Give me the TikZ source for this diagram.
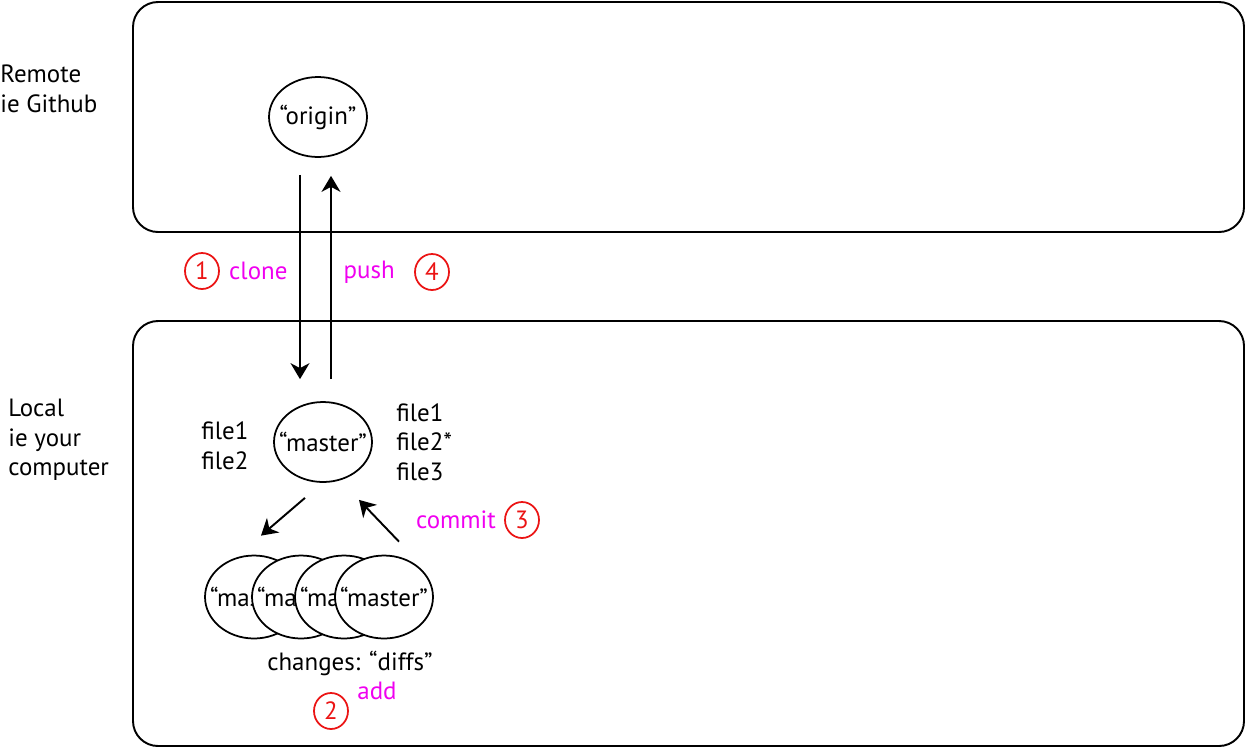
\documentclass[tikz,border=0pt]{standalone}
\usepackage{fontspec}
\setmainfont{PT Sans}
\usepackage{tikz}
\usetikzlibrary{positioning, arrows.meta, shapes.geometric, calc}
\definecolor{gitmag}{RGB}{240,0,240}
\definecolor{gitred}{RGB}{235,20,20}

\begin{document}
\begin{tikzpicture}[
    x=0.02cm, y=-0.02cm,
    font=\fontsize{14.2}{16.8}\selectfont,
    area/.style={draw, line width=1.1pt, rounded corners=0.5cm},
    repo/.style={draw, ellipse, line width=1pt, fill=white, minimum width=1.96cm, minimum height=1.6cm, inner xsep=-0.3cm, inner ysep=0pt},
    stash/.style={repo, minimum width=1.96cm, minimum height=1.66cm},
    num/.style={draw=gitred, ellipse, line width=1pt, text=gitred, minimum width=0.68cm, minimum height=0.72cm, inner sep=0pt},
    cmd/.style={text=gitmag, inner sep=0pt},
    side/.style={align=left, anchor=west, inner sep=0pt},
    arr/.style={-{Stealth[length=0.32cm, width=0.38cm, inset=0.1cm]}, line width=1.1pt}
]
    \useasboundingbox (0,0) rectangle (1246,748);

    % remote and local areas
    \draw[area] (133,2) rectangle (1244,232);
    \draw[area] (133,321) rectangle (1244,746);
    \node[side] (remote) at (0,89) {Remote\\ie Github};
    \node[side] (local) at (8,440) {Local\\ie your\\computer};

    % repositories
    \node[repo] (origin) at (318,117) {“origin”};
    \node[repo] (master) at (323,442) {“master”};
    \node[side] (oldfiles) at (201,446) {file1\\file2};
    \node[side] (newfiles) at (396,442) {file1\\file2*\\file3};

    % staged changes
    \node[stash] (diffA) at (254,597) {“master”};
    \node[stash] (diffB) at (301,597) {“master”};
    \node[stash] (diffC) at (344,597) {“master”};
    \node[stash] (diffD) at (384,597) {“master”};
    \node (changes) at (350,663) {changes: “diffs”};

    % commands
    \node[num] (n1) at (202,271) {1};
    \node[cmd, right=0.18cm of n1] (clone) {clone};
    \node[num] (n4) at (432,272) {4};
    \node[cmd, left=0.38cm of n4] (push) {push};
    \node[num] (n2) at (331,711) {2};
    \node[cmd] (add) at (377,691) {add};
    \node[num] (n3) at (522,520) {3};
    \node[cmd, left=0.16cm of n3] (commit) {commit};

    \draw[arr] ($(origin.south)+(-18,17)$) -- ($(master.north)+(-23,-22)$);
    \draw[arr] ($(master.north)+(8,-22)$) -- ($(origin.south)+(13,18)$);
    \draw[arr] ($(master.south)+(-18,15)$) -- ($(diffA.north)+(7,-19)$);
    \draw[arr] ($(diffD.north)+(15,-13)$) -- ($(master.south)+(36,17)$);
\end{tikzpicture}
\end{document}
